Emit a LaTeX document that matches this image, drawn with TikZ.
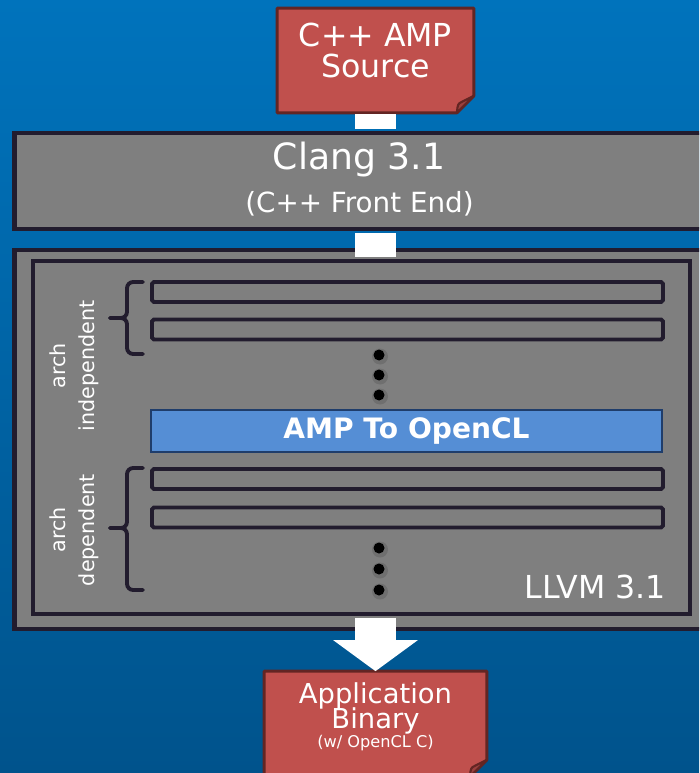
\documentclass[tikz,border=0pt]{standalone}
\usepackage{fontspec}
\setmainfont{DejaVu Sans}
\usetikzlibrary{arrows.meta,calc}

\definecolor{bgtop}{HTML}{0073BC}
\definecolor{bgbot}{HTML}{00538C}
\definecolor{boxgray}{HTML}{7F7F7F}
\definecolor{boxline}{HTML}{221C2E}
\definecolor{docred}{HTML}{C0504D}
\definecolor{docline}{HTML}{632523}
\definecolor{passblue}{HTML}{558ED5}
\definecolor{passline}{HTML}{1F3D6B}

\tikzset{
    stage/.style={draw=boxline, fill=boxgray, line width=2.5pt, inner sep=0pt},
    core/.style={draw=boxline, line width=2.2pt, inner sep=0pt},
    passbar/.style={draw=boxline, fill=boxgray, line width=2.2pt, rounded corners=1pt,
        inner sep=0pt, minimum width=10.22cm, minimum height=0.40cm},
    amppass/.style={draw=passline, fill=passblue, line width=1.2pt, inner sep=0pt,
        minimum width=10.22cm, minimum height=0.84cm, text=white,
        font=\bfseries\fontsize{16}{19}\selectfont},
    docbox/.style={inner sep=0pt},
    docshape/.style={draw=docline, fill=docred, line width=1.7pt, line join=round},
    docflap/.style={draw=docline, fill=docred!80!black, line width=1.2pt, line join=round},
    txt/.style={text=white, anchor=base, inner sep=0pt},
    sidelabel/.style={text=white, rotate=90, align=center, inner sep=0pt,
        font=\fontsize{11.8}{16.5}\selectfont},
    bracket/.style={draw=boxline, line width=2.2pt, rounded corners=3.5pt, line cap=round},
    pipe/.style={white, line width=0.82cm},
}

\begin{document}
\begin{tikzpicture}[x=0.02cm, y=-0.02cm]

    % =================================================================
    % BACKGROUND
    % =================================================================
    \useasboundingbox (0,0) rectangle (699,773);
    \clip (0,0) rectangle (699,773);
    \shade[top color=bgtop, bottom color=bgbot] (0,0) rectangle (699,773);

    % =================================================================
    % STAGES: CLANG AND LLVM
    % =================================================================
    \node[stage, minimum width=13.79cm, minimum height=1.91cm] (clang) at (359,181) {};
    \node[txt, font=\fontsize{20.6}{24}\selectfont] (clangname) at (359,170) {Clang 3.1};
    \node[txt, font=\fontsize{15.8}{18}\selectfont] (clangsub) at (359.5,213) {(C++ Front End)};

    \node[stage, minimum width=13.79cm, minimum height=7.57cm] (llvm) at (359,439.5) {};
    \node[core, minimum width=13.14cm, minimum height=7.06cm] (llvmcore) at (361.5,437.5) {};
    \node[txt, anchor=base east, font=\fontsize{18}{21}\selectfont] (llvmname) at (666,598) {LLVM 3.1};

    % =================================================================
    % SOURCE AND OUTPUT DOCUMENTS
    % =================================================================
    \node[docbox, minimum width=3.92cm, minimum height=2.08cm] (src) at (375.5,60.5) {};
    \node[docbox, minimum width=4.44cm, minimum height=2.10cm] (app) at (375.5,724) {};

    % Documents with a folded corner
    \foreach \d in {src,app} {
        \filldraw[docshape] (\d.north west) -- (\d.north east) -- ($(\d.south east)+(0,-17)$)
            -- ($(\d.south east)+(-17,0)$) -- (\d.south west) -- cycle;
        \filldraw[docflap] ($(\d.south east)+(-17,0)$) .. controls ($(\d.south east)+(-16,-9)$)
            .. ($(\d.south east)+(-12,-11)$) -- ($(\d.south east)+(0,-17)$) -- cycle;
    }

    \node[txt, font=\fontsize{18}{20}\selectfont] (srcline1) at (375.5,47) {C++ AMP};
    \node[txt, font=\fontsize{18}{20}\selectfont] (srcline2) at (375.5,78) {Source};

    \node[txt, font=\fontsize{15.6}{18}\selectfont] (appline1) at (375.5,703) {Application};
    \node[txt, font=\fontsize{15.6}{18}\selectfont] (appline2) at (375.5,728) {Binary};
    \node[txt, font=\fontsize{9.2}{11}\selectfont] (appline3) at (375.5,747) {(w/ OpenCL C)};

    % Pipes between the stages
    \draw[pipe, shorten <=0.85pt, shorten >=1.25pt] (src.south) -- (src.south |- clang.north);
    \draw[pipe, shorten <=1.25pt, shorten >=1.1pt] (src.south |- clang.south) -- (src.south |- llvmcore.north);
    \draw[pipe, shorten <=1.1pt, -{Triangle[width=1.66cm, length=0.62cm]}]
        (src.south |- llvmcore.south) -- (app.north);

    % =================================================================
    % PASSES
    % =================================================================
    \node[passbar] (indep1) at (407.5,292) {};
    \node[passbar] (indep2) at (407.5,329.5) {};
    \node[amppass] (amp) at (406.5,431) {AMP To OpenCL};
    \node[passbar] (dep1) at (407.5,479) {};
    \node[passbar] (dep2) at (407.5,517.5) {};

    % Dots: more passes
    \foreach \y in {355,375,395,548,569,590} {
        \fill[black, opacity=0.12] (380,\y+1.5) circle[radius=8];
        \fill[black] (379,\y) circle[radius=5.5];
    }

    % Braces and their labels
    \foreach \top/\mid/\bot in {282/318/354, 468/528/590} {
        \draw[bracket] (143,\top) -- (127,\top) -- (127,\mid) -- (110,\mid);
        \draw[bracket] (143,\bot) -- (127,\bot) -- (127,\mid) -- (110,\mid);
    }
    \node[sidelabel] (indeplabel) at (74.5,366) {arch\\independent};
    \node[sidelabel] (deplabel) at (74.5,530) {arch\\dependent};

\end{tikzpicture}
\end{document}
